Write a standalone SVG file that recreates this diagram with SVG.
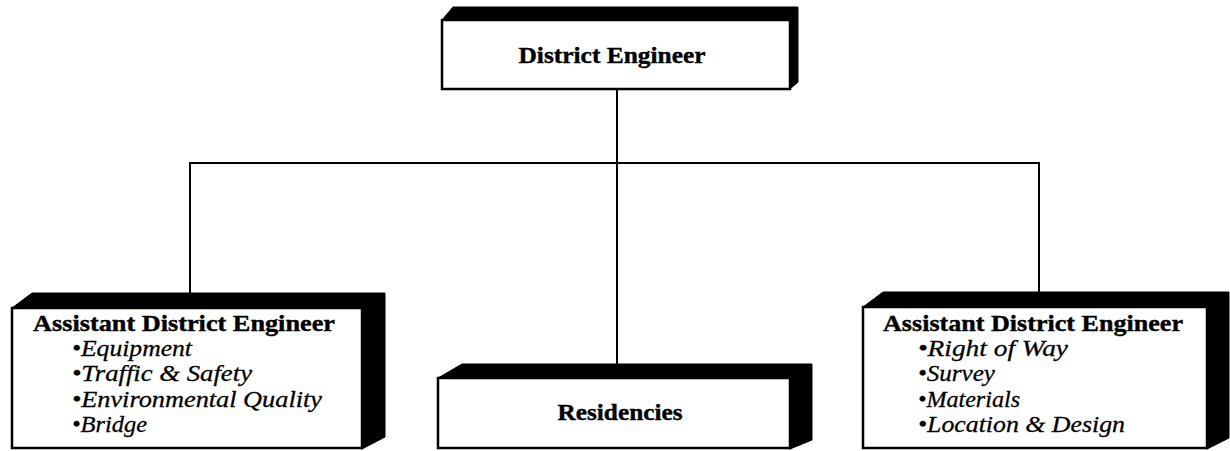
<svg xmlns="http://www.w3.org/2000/svg" width="1230" height="451" viewBox="0 0 1230 451">
<style>
.shadow{fill:#000;stroke:#000;stroke-width:1;stroke-linejoin:round}
.front{fill:#fff;stroke:#000;stroke-width:2.5}
.t{font-family:"Liberation Serif","Times New Roman",serif;font-weight:bold;font-size:24px;fill:#000;stroke:#000;stroke-width:0.4}
.i{font-family:"Liberation Serif","Times New Roman",serif;font-style:italic;font-size:24px;fill:#000;stroke:#000;stroke-width:0.3}
.c{text-anchor:middle}
.conn{stroke:#000;stroke-width:2;fill:none}
</style>
<rect width="1230" height="451" fill="#fff"/>
<g id="connectors">
<line class="conn" x1="617" y1="89" x2="617" y2="364"/>
<line class="conn" x1="190" y1="163" x2="1039" y2="163"/>
<line class="conn" x1="190" y1="162" x2="190" y2="293"/>
<line class="conn" x1="1039" y1="162" x2="1039" y2="292"/>
</g>
<g id="district-engineer">
<polygon class="shadow" points="442,20 453,7 798,7 798,82 790,89"/>
<rect class="front" x="442" y="20" width="348" height="69"/>
<text class="t c" x="612" y="63" textLength="187" lengthAdjust="spacingAndGlyphs">District Engineer</text>
</g>
<g id="ade-left">
<polygon class="shadow" points="12,308 32,293 385,293 385,437 362,449"/>
<rect class="front" x="12" y="308" width="350" height="140"/>
<text class="t" x="33" y="331" textLength="302" lengthAdjust="spacingAndGlyphs">Assistant District Engineer</text>
<text class="i" x="72" y="356" textLength="120" lengthAdjust="spacingAndGlyphs">•Equipment</text>
<text class="i" x="72" y="381" textLength="180" lengthAdjust="spacingAndGlyphs">•Traffic &amp; Safety</text>
<text class="i" x="72" y="407" textLength="250" lengthAdjust="spacingAndGlyphs">•Environmental Quality</text>
<text class="i" x="72" y="432" textLength="75" lengthAdjust="spacingAndGlyphs">•Bridge</text>
</g>
<g id="residencies">
<polygon class="shadow" points="438,378 462,364 812,364 812,440 790,449"/>
<rect class="front" x="438" y="378" width="352" height="70"/>
<text class="t c" x="620" y="420" textLength="125" lengthAdjust="spacingAndGlyphs">Residencies</text>
</g>
<g id="ade-right">
<polygon class="shadow" points="863,307 883,292 1229,292 1229,438 1207,449"/>
<rect class="front" x="863" y="307" width="344" height="141"/>
<text class="t" x="883" y="331" textLength="300" lengthAdjust="spacingAndGlyphs">Assistant District Engineer</text>
<text class="i" x="918" y="356" textLength="150" lengthAdjust="spacingAndGlyphs">•Right of Way</text>
<text class="i" x="918" y="381" textLength="77" lengthAdjust="spacingAndGlyphs">•Survey</text>
<text class="i" x="918" y="407" textLength="102" lengthAdjust="spacingAndGlyphs">•Materials</text>
<text class="i" x="918" y="432" textLength="207" lengthAdjust="spacingAndGlyphs">•Location &amp; Design</text>
</g>
</svg>
